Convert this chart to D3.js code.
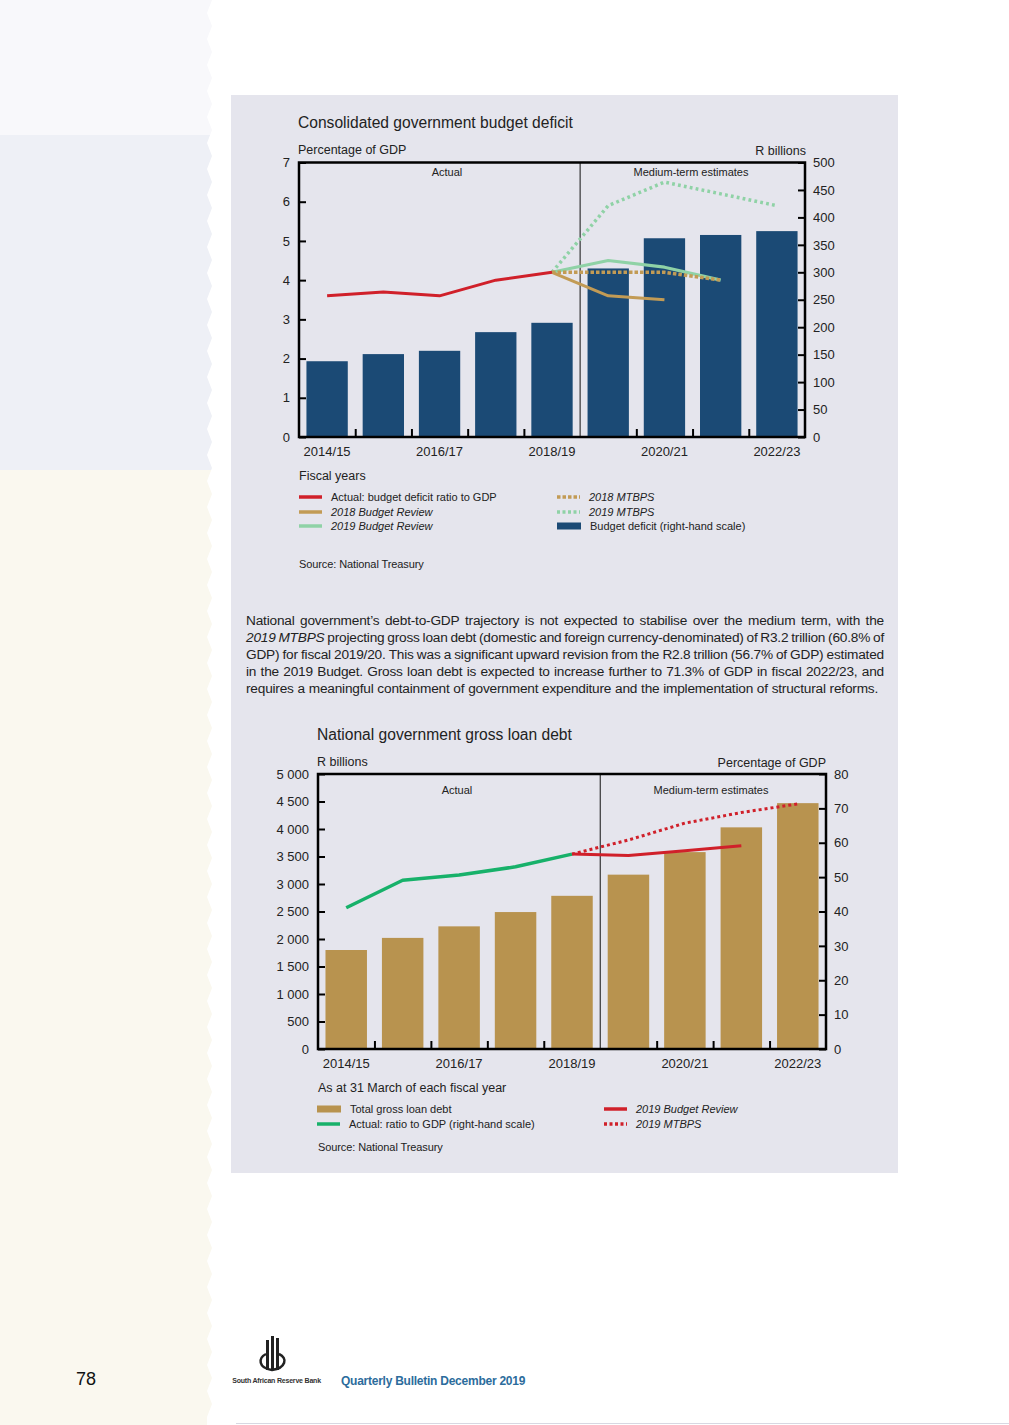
<!DOCTYPE html>
<html><head><meta charset="utf-8">
<script src="https://cdn.jsdelivr.net/npm/d3@7"></script>
<style>
html,body{margin:0;padding:0;background:#fff;}
svg{display:block;font-family:"Liberation Sans",Arial,Helvetica,sans-serif;}
</style></head><body>
<svg id="page" width="1009" height="1425"></svg>
<script>
// ---------------- DATA ----------------
const years = ["2014/15","2015/16","2016/17","2017/18","2018/19","2019/20","2020/21","2021/22","2022/23"];
const xTickLabels = ["2014/15","2016/17","2018/19","2020/21","2022/23"];
const firstEstimateYear = "2019/20";

// Chart 1: Consolidated government budget deficit
const deficitBillions = [138, 151, 157, 191, 208, 307, 362, 368, 375];
const actualDeficitYears = ["2014/15","2015/16","2016/17","2017/18","2018/19"];
const actualDeficitPct = [3.6, 3.7, 3.6, 4.0, 4.2];
const br2018Years = ["2018/19","2019/20","2020/21"];
const br2018Pct = [4.2, 3.6, 3.5];
const mtbps2018Years = ["2018/19","2019/20","2020/21","2021/22"];
const mtbps2018Pct = [4.2, 4.2, 4.2, 4.0];
const br2019Years = ["2018/19","2019/20","2020/21","2021/22"];
const br2019Pct = [4.2, 4.5, 4.33, 4.0];
const mtbps2019Years = ["2018/19","2019/20","2020/21","2021/22","2022/23"];
const mtbps2019Pct = [4.2, 5.9, 6.5, 6.2, 5.9];
const deficitLeftTicks = [0,1,2,3,4,5,6,7];
const deficitRightTicks = [0,50,100,150,200,250,300,350,400,450,500];

// Chart 2: National government gross loan debt
const debtBillions = [1800, 2020, 2230, 2490, 2785, 3170, 3580, 4030, 4470];
const actualDebtYears = ["2014/15","2015/16","2016/17","2017/18","2018/19"];
const actualDebtPct = [41.1, 49.1, 50.6, 53.0, 56.7];
const brDebtYears = ["2018/19","2019/20","2020/21","2021/22"];
const brDebtPct = [56.7, 56.3, 57.7, 59.1];
const mtbpsDebtYears = ["2018/19","2019/20","2020/21","2021/22","2022/23"];
const mtbpsDebtPct = [56.7, 60.8, 65.7, 68.8, 71.3];
const debtLeftTicks = [0,500,1000,1500,2000,2500,3000,3500,4000,4500,5000];
const debtRightTicks = [0,10,20,30,40,50,60,70,80];

// ---------------- STYLE ----------------
const C = {
  text:"#222", box:"#e5e5ed", navy:"#1b4a75", red:"#d0202a", gold:"#c29b55",
  lgreen:"#8fd2a6", green:"#17b16a", goldBar:"#b8934f"
};
const svg = d3.select("#page");

// ---------------- PAGE BACKGROUND ----------------
const defs = svg.append("defs");
let zz = [[0,0]];
for (let y=0, i=0; y<=1425; y+=13, i++) zz.push([i%2? 207 : 212, y]);
zz.push([207,1425],[0,1425]);
defs.append("clipPath").attr("id","side").append("path").attr("d", d3.line()(zz)+"Z");
const side = svg.append("g").attr("clip-path","url(#side)");
side.append("rect").attr("x",0).attr("y",0).attr("width",215).attr("height",135).attr("fill","#f8f8fb");
side.append("rect").attr("x",0).attr("y",135).attr("width",215).attr("height",335).attr("fill","#eef0f6");
side.append("rect").attr("x",0).attr("y",470).attr("width",215).attr("height",955).attr("fill","#faf8ef");

svg.append("rect").attr("x",231).attr("y",95).attr("width",667).attr("height",1078).attr("fill",C.box);
svg.append("line").attr("x1",236).attr("x2",1009).attr("y1",1423.5).attr("y2",1423.5).attr("stroke","#d8d8e2");

function txt(g, x, y, s, size, opts={}) {
  return g.append("text").attr("x",x).attr("y",y).text(s)
    .attr("font-size",size).attr("fill",opts.fill||C.text)
    .attr("text-anchor",opts.anchor||"start")
    .attr("font-style",opts.italic?"italic":null)
    .attr("font-weight",opts.bold?"bold":null)
    .attr("letter-spacing",opts.ls!=null?opts.ls:null);
}

// ---------------- GENERIC DUAL AXIS CHART ----------------
function dualChart(cfg) {
  const g = svg.append("g");
  const {x0,x1,y0,y1} = cfg;
  const xb = d3.scaleBand().domain(years).range([x0,x1]).paddingInner(0.265).paddingOuter(0.1325);
  const xl = d3.scaleLinear().domain([0,years.length]).range([x0,x1]);
  const yL = d3.scaleLinear().domain(cfg.leftDomain).range([y1,y0]);
  const yR = d3.scaleLinear().domain(cfg.rightDomain).range([y1,y0]);
  const yBar = cfg.barsOn==="left" ? yL : yR;
  const yLine = cfg.barsOn==="left" ? yR : yL;

  // bars
  g.append("g").selectAll("rect").data(years).join("rect")
    .attr("x", d=>xb(d)).attr("width", xb.bandwidth())
    .attr("y", (d,i)=>yBar(cfg.bars[i])).attr("height",(d,i)=>y1-yBar(cfg.bars[i]))
    .attr("fill", cfg.barColor);

  // divider
  const divIdx = years.indexOf(firstEstimateYear);
  g.append("line").attr("x1",xl(divIdx)).attr("x2",xl(divIdx)).attr("y1",y0).attr("y2",y1)
    .attr("stroke","#111").attr("stroke-width",1);

  // lines
  const cx = d => xb(d)+xb.bandwidth()/2;
  cfg.lines.forEach(L=>{
    const pts = L.years.map((yr,i)=>[cx(yr), yLine(L.values[i])]);
    g.append("path").attr("d", d3.line()(pts)).attr("fill","none")
      .attr("stroke",L.color).attr("stroke-width",L.width||3)
      .attr("stroke-dasharray",L.dash||null)
      .attr("stroke-linejoin","round");
  });

  // axes
  const styleAxis = (a)=>{
    a.select(".domain").remove();
    a.selectAll(".tick line").attr("stroke","#000").attr("stroke-width",2);
    a.selectAll(".tick text").attr("font-size",13).attr("fill",C.text)
      .attr("font-family",'"Liberation Sans",Arial,sans-serif');
  };
  g.append("g").attr("transform",`translate(${x0},0)`)
    .call(d3.axisLeft(yL).tickValues(cfg.leftTicks).tickFormat(cfg.leftFormat).tickSize(-7).tickPadding(9)).call(styleAxis);
  g.append("g").attr("transform",`translate(${x1},0)`)
    .call(d3.axisRight(yR).tickValues(cfg.rightTicks).tickFormat(cfg.rightFormat).tickSize(-7).tickPadding(8)).call(styleAxis);
  g.append("g").attr("transform",`translate(0,${y1})`)
    .call(d3.axisBottom(xl).tickValues(d3.range(1,years.length).filter(v=>v!==divIdx)).tickFormat("").tickSize(-8)).call(styleAxis);
  g.append("g").attr("transform",`translate(0,${y1})`)
    .call(d3.axisBottom(xb).tickValues(xTickLabels).tickSize(0).tickPadding(cfg.xPad)).call(styleAxis);

  // frame
  g.append("rect").attr("x",x0).attr("y",y0).attr("width",x1-x0).attr("height",y1-y0)
    .attr("fill","none").attr("stroke","#000").attr("stroke-width",2.5);

  txt(g, cfg.actualX, cfg.labelY, "Actual", 11, {anchor:"middle", ls:0});
  txt(g, cfg.medX, cfg.labelY, "Medium-term estimates", 11, {anchor:"middle", ls:0});
  return g;
}

// ---------------- CHART 1 ----------------
const g1 = dualChart({
  x0:299, x1:805, y0:162.5, y1:437,
  leftDomain:[0,7], rightDomain:[0,500], barsOn:"right",
  leftTicks:deficitLeftTicks, rightTicks:deficitRightTicks,
  leftFormat:d3.format("d"), rightFormat:d3.format("d"),
  bars:deficitBillions, barColor:C.navy, xPad:10,
  actualX:447, medX:691, labelY:176,
  lines:[
    {years:mtbps2019Years, values:mtbps2019Pct, color:C.lgreen, dash:"2.8 3.2", width:3.5},
    {years:br2019Years, values:br2019Pct, color:C.lgreen, width:3.2},
    {years:mtbps2018Years, values:mtbps2018Pct, color:C.gold, dash:"3.5 2", width:3.5},
    {years:br2018Years, values:br2018Pct, color:C.gold, width:3},
    {years:actualDeficitYears, values:actualDeficitPct, color:C.red, width:3}
  ]
});
txt(svg, 298, 128, "Consolidated government budget deficit", 15.6, {ls:0});
txt(svg, 298, 153.5, "Percentage of GDP", 12.5, {ls:0});
txt(svg, 806, 154.5, "R billions", 12.5, {anchor:"end", ls:0});
txt(svg, 299, 479.5, "Fiscal years", 12.5, {ls:0});

// legend 1
function legendLine(g,x,y,color,dash,label,italic){
  g.append("line").attr("x1",x).attr("x2",x+23).attr("y1",y).attr("y2",y)
    .attr("stroke",color).attr("stroke-width",3.5).attr("stroke-dasharray",dash||null);
  txt(g, x+32, y+4, label, 11, {italic, ls:0});
}
function legendRect(g,x,y,color,label){
  g.append("rect").attr("x",x).attr("y",y-3.5).attr("width",24).attr("height",7).attr("fill",color);
  txt(g, x+33, y+4, label, 11, {ls:0});
}
legendLine(svg,299,497,C.red,null,"Actual: budget deficit ratio to GDP",false);
legendLine(svg,299,512,C.gold,null,"2018 Budget Review",true);
legendLine(svg,299,526,C.lgreen,null,"2019 Budget Review",true);
legendLine(svg,557,497,C.gold,"3.5 2","2018 MTBPS",true);
legendLine(svg,557,512,C.lgreen,"3 2.5","2019 MTBPS",true);
legendRect(svg,557,526,C.navy,"Budget deficit (right-hand scale)");
txt(svg, 299, 568, "Source: National Treasury", 11, {ls:-0.1});

// ---------------- PARAGRAPH ----------------
const paraLines = [
  [{t:"National government’s debt-to-GDP trajectory is not expected to stabilise over the medium term, with the"}],
  [{t:"2019 MTBPS", i:true},{t:"projecting gross loan debt (domestic and foreign currency-denominated) of R3.2 trillion (60.8% of"}],
  [{t:"GDP) for fiscal 2019/20. This was a significant upward revision from the R2.8 trillion (56.7% of GDP) estimated"}],
  [{t:"in the 2019 Budget. Gross loan debt is expected to increase further to 71.3% of GDP in fiscal 2022/23, and"}],
  [{t:"requires a meaningful containment of government expenditure and the implementation of structural reforms."}]
];
(function(){
  const g = svg.append("g");
  const pX = 246, pW = 638, lastW = 627;
  // fit font size so last (unjustified) line matches its width
  const probe = g.append("text").attr("font-size",12).attr("letter-spacing",-0.2).text(paraLines[4][0].t);
  const fs = 12 * lastW / probe.node().getComputedTextLength();
  probe.remove();
  paraLines.forEach((segs, li)=>{
    const y = 624.5 + li*17;
    const words = [];
    segs.forEach(s=> s.t.split(/\s+/).forEach(w=>words.push({w, i:!!s.i})));
    const els = words.map(o=> txt(g,0,y,o.w,fs,{italic:o.i, ls:-0.2}));
    const widths = els.map(e=>e.node().getComputedTextLength());
    const sum = d3.sum(widths);
    const spaceW = fs*0.278;
    const gap = li < paraLines.length-1 ? (pW - sum)/(words.length-1) : spaceW;
    let x = pX;
    els.forEach((e,k)=>{ e.attr("x",x); x += widths[k] + gap; });
  });
})();

// ---------------- CHART 2 ----------------
const spaceFmt = d3.formatLocale({decimal:".", thousands:" ", grouping:[3], currency:["",""]}).format(",");
const g2 = dualChart({
  x0:318, x1:826, y0:774, y1:1049,
  leftDomain:[0,5000], rightDomain:[0,80], barsOn:"left",
  leftTicks:debtLeftTicks, rightTicks:debtRightTicks,
  leftFormat:spaceFmt, rightFormat:d3.format("d"),
  bars:debtBillions, barColor:C.goldBar, xPad:9.5,
  actualX:457, medX:711, labelY:794,
  lines:[
    {years:actualDebtYears, values:actualDebtPct, color:C.green, width:3.5},
    {years:mtbpsDebtYears, values:mtbpsDebtPct, color:C.red, dash:"3 3", width:3},
    {years:brDebtYears, values:brDebtPct, color:C.red, width:3}
  ]
});
txt(svg, 317, 740, "National government gross loan debt", 15.6, {ls:0});
txt(svg, 317, 765.5, "R billions", 12.5, {ls:0});
txt(svg, 826, 766.5, "Percentage of GDP", 12.5, {anchor:"end", ls:0});
txt(svg, 318, 1091.5, "As at 31 March of each fiscal year", 12.5, {ls:0});
legendRect(svg,317,1109,C.goldBar,"Total gross loan debt");
legendLine(svg,317,1124,C.green,null,"Actual: ratio to GDP (right-hand scale)",false);
legendLine(svg,604,1109,C.red,null,"2019 Budget Review",true);
legendLine(svg,604,1124,C.red,"3 2.5","2019 MTBPS",true);
txt(svg, 318, 1151, "Source: National Treasury", 11, {ls:-0.1});

// ---------------- FOOTER ----------------
const f = svg.append("g");
txt(f, 86, 1385, "78", 18, {anchor:"middle", fill:"#111"});
const logo = f.append("g").attr("fill","#222");
logo.append("rect").attr("x",266).attr("y",1340).attr("width",3).attr("height",30);
logo.append("rect").attr("x",271).attr("y",1336).attr("width",3).attr("height",34);
logo.append("rect").attr("x",276).attr("y",1338).attr("width",3).attr("height",32);
f.append("path").attr("d","M266,1354 C258,1358 258,1368 272,1370 C286,1368 288,1358 279,1354")
  .attr("fill","none").attr("stroke","#222").attr("stroke-width",2.5);
txt(f, 276.5, 1383, "South African Reserve Bank", 7, {anchor:"middle", bold:true, ls:-0.2, fill:"#333"});
txt(f, 341, 1384.5, "Quarterly Bulletin December 2019", 12, {bold:true, fill:"#2c6c9c", ls:-0.25});
</script>
</body></html>
